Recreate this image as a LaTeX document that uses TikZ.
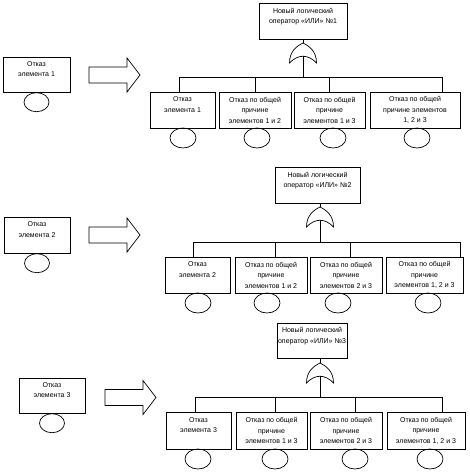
\documentclass[tikz,border=0pt]{standalone}
\usepackage{fontspec}
\setmainfont{Liberation Sans}
\usetikzlibrary{
  positioning,
  shapes.geometric
}
\tikzstyle{box}=[draw, align=center, inner sep=1pt, minimum height=36pt, font=\fontsize{7}{10.5}\selectfont]
\tikzstyle{event}=[draw, ellipse, minimum width=26pt, minimum height=20pt, inner sep=0pt]
\tikzset{
  orgate/.pic={
    \draw (-13.5,20) .. controls (-13.5,8) and (-6,3) .. (0,0)
      .. controls (6,3) and (13.5,8) .. (13.5,20)
      .. controls (5,11) and (-5,11) .. (-13.5,20) -- cycle;
    \coordinate (-in) at (0,0);
    \coordinate (-out) at (0,13);
  },
  fatarrow/.pic={
    \draw (0,-8) -- (38,-8) -- (38,-17) -- (51,0) -- (38,17) -- (38,8) -- (0,8) -- cycle;
  }
}

\begin{document}
\begin{tikzpicture}[x=1pt, y=-1pt, line width=0.7pt]
  \useasboundingbox (0,0) rectangle (470,476);

  % Элемент 1
  \node[box, minimum width=67pt, minimum height=35pt] (a1) at (36.5,74.5) {Отказ\\элемента 1\\\mbox{}};
  \node[event, minimum width=25pt, minimum height=19pt, below=0pt of a1] (c1) {};
  \pic at (89,75) {fatarrow};

  % Оператор «ИЛИ» №1
  \node[box, minimum width=88pt] (t1) at (303,21) {Новый логический\\оператор «ИЛИ» №1\\\mbox{}};
  \pic (g1) at (303,43) {orgate};
  \draw (g1-in |- t1.south) -- (g1-in);

  \node[box, minimum width=65pt] (b11) at (182.5,110) {Отказ\\элемента 1\\\mbox{}};
  \node[box, minimum width=72pt] (b12) at (255,110) {Отказ по общей\\причине\\элементов 1 и 2};
  \node[box, minimum width=71pt] (b13) at (329.5,110) {Отказ по общей\\причине\\элементов 1 и 3};
  \node[box, minimum width=90pt] (b14) at (415,110) {Отказ по общей\\причине элементов\\1, 2 и 3};

  \node[event] (e11) at (183,138) {};
  \node[event] (e12) at (257,138) {};
  \node[event] (e13) at (333,138) {};
  \node[event] (e14) at (417,138) {};

  % разветвление
  \coordinate (d11) at (179,77);
  \coordinate (d12) at (255,77);
  \coordinate (d13) at (329,77);
  \coordinate (d14) at (442,77);
  \draw (g1-out) -- (g1-out |- d11);
  \draw (d11 |- b11.north) -- (d11) -- (d14) -- (d14 |- b14.north);
  \draw (d12) -- (d12 |- b12.north);
  \draw (d13) -- (d13 |- b13.north);

  % Элемент 2
  \node[box, minimum width=66pt] (a2) at (37,235) {Отказ\\элемента 2\\\mbox{}};
  \node[event, minimum width=25pt, minimum height=19pt, below=0pt of a2] (c2) {};
  \pic at (89,235) {fatarrow};

  % Оператор «ИЛИ» №2
  \node[box, minimum width=85pt] (t2) at (317.5,185) {Новый логический\\оператор «ИЛИ» №2\\\mbox{}};
  \pic (g2) at (320,207) {orgate};
  \draw (g2-in |- t2.south) -- (g2-in);

  \node[box, minimum width=65pt] (b21) at (197.5,275) {Отказ\\элемента 2\\\mbox{}};
  \node[box, minimum width=72pt] (b22) at (271,275) {Отказ по общей\\причине\\элементов 1 и 2};
  \node[box, minimum width=72pt] (b23) at (346,275) {Отказ по общей\\причине\\элементов 2 и 3};
  \node[box, minimum width=77pt] (b24) at (424.5,275) {Отказ по общей\\причине\\элементов 1, 2 и 3};

  \node[event] (e21) at (198,303) {};
  \node[event] (e22) at (267,303) {};
  \node[event] (e23) at (338,303) {};
  \node[event] (e24) at (428,303) {};

  % разветвление
  \coordinate (d21) at (193,242);
  \coordinate (d22) at (275,242);
  \coordinate (d23) at (350,242);
  \coordinate (d24) at (460,242);
  \draw (g2-out) -- (g2-out |- d21);
  \draw (d21 |- b21.north) -- (d21) -- (d24) -- (d24 |- b24.north);
  \draw (d22) -- (d22 |- b22.north);
  \draw (d23) -- (d23 |- b23.north);

  % Элемент 3
  \node[box, minimum width=66pt, minimum height=35pt] (a3) at (52,395.5) {Отказ\\элемента 3\\\mbox{}};
  \node[event, minimum width=25pt, minimum height=19pt, below=0pt of a3] (c3) {};
  \pic at (105,397.5) {fatarrow};

  % Оператор «ИЛИ» №3
  \node[box, minimum width=70pt, minimum height=35pt] (t3) at (312,340.5) {Новый логический\\оператор «ИЛИ» №3\\\mbox{}};
  \pic (g3) at (320,363) {orgate};
  \draw (g3-in |- t3.south) -- (g3-in);

  \node[box, minimum width=65pt, minimum height=37pt] (b31) at (198.5,430.5) {Отказ\\элемента 3\\\mbox{}};
  \node[box, minimum width=71pt, minimum height=37pt] (b32) at (271.5,430.5) {Отказ по общей\\причине\\элементов 1 и 3};
  \node[box, minimum width=72pt, minimum height=37pt] (b33) at (346,430.5) {Отказ по общей\\причине\\элементов 2 и 3};
  \node[box, minimum width=78pt, minimum height=37pt] (b34) at (426,430.5) {Отказ по общей\\причине\\элементов 1, 2 и 3};

  \node[event] (e31) at (198,459) {};
  \node[event] (e32) at (275,459) {};
  \node[event] (e33) at (355,459) {};
  \node[event] (e34) at (430,459) {};

  % разветвление
  \coordinate (d31) at (195,397);
  \coordinate (d32) at (275,397);
  \coordinate (d33) at (355,397);
  \coordinate (d34) at (442,397);
  \draw (g3-out) -- (g3-out |- d31);
  \draw (d31 |- b31.north) -- (d31) -- (d34) -- (d34 |- b34.north);
  \draw (d32) -- (d32 |- b32.north);
  \draw (d33) -- (d33 |- b33.north);
\end{tikzpicture}
\end{document}
